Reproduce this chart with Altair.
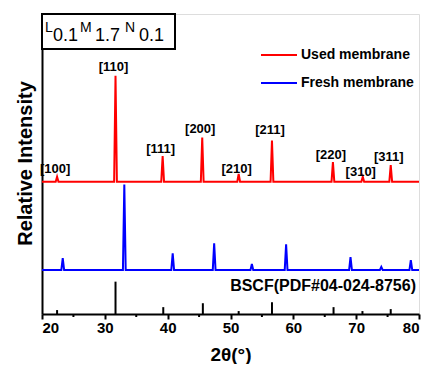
import altair as alt
import pandas as pd

# ---- data (y in arbitrary intensity units, 0 = bottom axis) ----
series_names = ["Used membrane", "Fresh membrane"]
series_colors = ["#ff0000", "#0000ff"]

used_base = 135
used_peak_x = [22.4, 31.7, 39.2, 45.5, 51.3, 56.6, 66.3, 71.05, 75.5]
used_peak_y = [140, 243, 161, 180, 143, 177, 155, 140, 152]
used_labels = ["[100]", "[110]", "[111]", "[200]", "[210]", "[211]", "[220]", "[310]", "[311]"]
label_y = [148, 252, 168, 189, 148, 188, 162, 145, 160]

fresh_base = 45
fresh_peak_x = [23.3, 33.1, 40.8, 47.4, 53.4, 58.85, 69.1, 74.0, 78.7]
fresh_peak_y = [57, 132, 62, 72, 51, 71, 58, 48, 55]

ref_x = [22.4, 31.7, 39.3, 45.6, 51.3, 56.6, 66.4, 71.0, 75.5]
ref_h = [4, 33, 7, 11, 3, 12, 7, 3, 5]
ref_name = "BSCF(PDF#04-024-8756)"

x_ticks = [20, 30, 40, 50, 60, 70, 80]
x_minor = [25, 35, 45, 55, 65, 75]

HALF = 0.22  # peak half width (style)
FONT = "Liberation Sans"
W = 377
H = 300


def profile(name, base, px, py):
    rows = [{"x": 20, "y": base, "s": name}]
    for p, h in zip(px, py):
        rows.append({"x": p - HALF, "y": base, "s": name})
        rows.append({"x": p, "y": h, "s": name})
        rows.append({"x": p + HALF, "y": base, "s": name})
    rows.append({"x": 80, "y": base, "s": name})
    return rows


lines_df = pd.DataFrame(
    profile(series_names[0], used_base, used_peak_x, used_peak_y)
    + profile(series_names[1], fresh_base, fresh_peak_x, fresh_peak_y)
)
lines_df["order"] = range(len(lines_df))

xs = alt.Scale(domain=[20, 80], nice=False, zero=False)
ys = alt.Scale(domain=[0, 306], nice=False, zero=True)

color = alt.Color("s:N", scale=alt.Scale(domain=series_names, range=series_colors), legend=None)

lines = alt.Chart(lines_df).mark_line(strokeWidth=2, clip=True).encode(
    x=alt.X("x:Q", scale=xs, axis=alt.Axis(
        values=x_ticks, title="2θ(°)", grid=False, tickSize=5, tickWidth=2, tickColor="black",
        domainColor="black", domainWidth=2, labelFont=FONT, labelFontSize=15, labelFontWeight="bold",
        labelColor="black", labelPadding=1, titleFont=FONT, titleFontSize=19, titleFontWeight="bold",
        titleColor="black", titleY=40, titleBaseline="middle")),
    y=alt.Y("y:Q", scale=ys, axis=alt.Axis(
        labels=False, ticks=False, grid=False, domainColor="black", domainWidth=2,
        title="Relative Intensity", titleFont=FONT, titleFontSize=20, titleFontWeight="bold",
        titleColor="black", titleX=-17, titleY=149, titleAngle=270, titleBaseline="middle",
        titleAlign="center")),
    color=color,
    detail="s:N",
    order="order:Q",
)

ref_df = pd.DataFrame({"x": ref_x, "h": ref_h})
sticks = alt.Chart(ref_df).mark_rule(color="black", strokeWidth=2).encode(
    x=alt.X("x:Q", scale=xs), y=alt.Y("h:Q", scale=ys), y2=alt.datum(0)
)

minor_df = pd.DataFrame({"x": x_minor})
minor = alt.Chart(minor_df).mark_rule(color="black", strokeWidth=2).encode(
    x=alt.X("x:Q", scale=xs), y=alt.value(H), y2=alt.value(H + 3)
)

lab_df = pd.DataFrame({"x": used_peak_x, "y": label_y, "t": used_labels})
labels = alt.Chart(lab_df).mark_text(
    font=FONT, fontSize=13, fontWeight="bold", color="black", dx=-2, baseline="middle"
).encode(x=alt.X("x:Q", scale=xs), y=alt.Y("y:Q", scale=ys), text="t:N")

ref_label = alt.Chart(pd.DataFrame({"t": [ref_name]})).mark_text(
    font=FONT, fontSize=16, fontWeight="bold", color="black", align="right", baseline="middle"
).encode(x=alt.value(W - 3), y=alt.value(272), text="t:N")

# legend (drawn)
leg_df = pd.DataFrame({"s": series_names, "row": [0, 1]})
leg_line_red = alt.Chart(leg_df.iloc[[0]]).mark_rule(strokeWidth=2).encode(
    x=alt.value(219), x2=alt.value(255), y=alt.value(41), color=color)
leg_line_blue = alt.Chart(leg_df.iloc[[1]]).mark_rule(strokeWidth=2).encode(
    x=alt.value(219), x2=alt.value(255), y=alt.value(69), color=color)
leg_txt_red = alt.Chart(leg_df.iloc[[0]]).mark_text(
    font=FONT, fontSize=14, fontWeight="bold", color="black", align="left", baseline="middle"
).encode(x=alt.value(259), y=alt.value(41), text="s:N")
leg_txt_blue = alt.Chart(leg_df.iloc[[1]]).mark_text(
    font=FONT, fontSize=14, fontWeight="bold", color="black", align="left", baseline="middle"
).encode(x=alt.value(259), y=alt.value(69), text="s:N")

# composition box
box = alt.Chart(pd.DataFrame({"a": [0]})).mark_rect(
    fill="white", stroke="black", strokeWidth=2
).encode(x=alt.value(0), x2=alt.value(133), y=alt.value(0), y2=alt.value(35))

box_parts = [("L", 3, 18, 14), ("0.1", 11, 27, 18), ("M", 38, 18, 14), ("1.7", 53, 27, 18),
             ("N", 83, 18, 14), ("0.1", 97, 27, 18)]
box_texts = []
for t, bx, by, fs in box_parts:
    box_texts.append(
        alt.Chart(pd.DataFrame({"t": [t]})).mark_text(
            font=FONT, fontSize=fs, color="black", align="left", baseline="alphabetic"
        ).encode(x=alt.value(bx), y=alt.value(by), text="t:N")
    )

chart = alt.layer(
    lines, sticks, minor, labels, ref_label,
    leg_line_red, leg_line_blue, leg_txt_red, leg_txt_blue, box, *box_texts
).properties(
    width=W, height=H,
    autosize=alt.AutoSizeParams(type="none"),
    padding={"left": 34, "top": 6, "right": 8, "bottom": 50},
).configure_view(stroke="black", strokeWidth=2).configure(background="white")

chart.save("out.html", embed_options={"renderer": "svg", "actions": False})
